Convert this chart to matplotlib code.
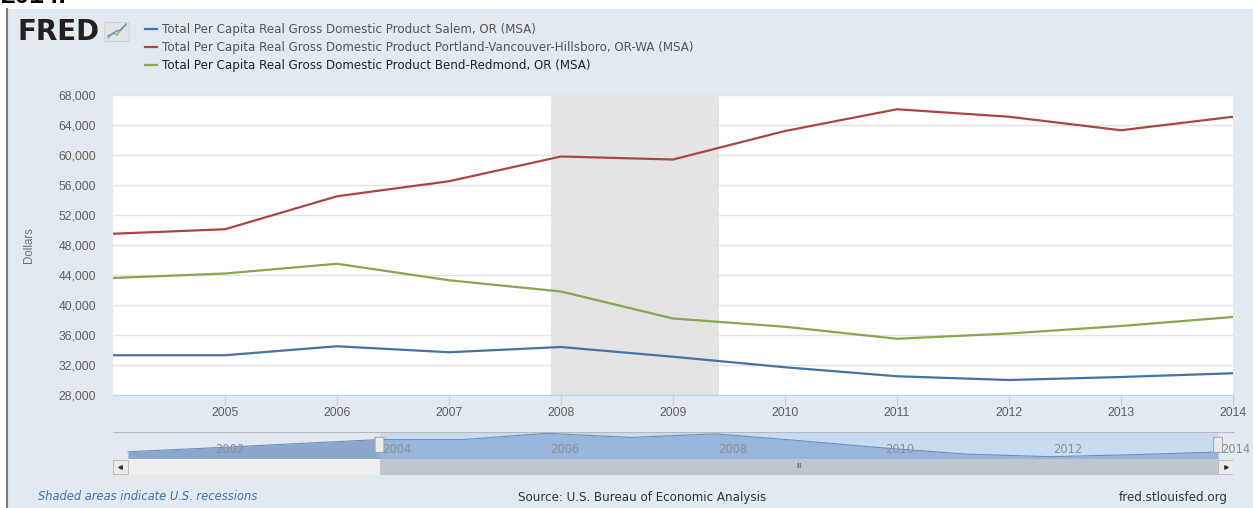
import matplotlib
matplotlib.use("Agg")
import matplotlib.pyplot as plt
from matplotlib.patches import Rectangle, FancyBboxPatch
from matplotlib.lines import Line2D
from matplotlib.ticker import FuncFormatter
from matplotlib.transforms import blended_transform_factory

# data (annual, dollars)
years = [2004, 2005, 2006, 2007, 2008, 2009, 2010, 2011, 2012, 2013, 2014]
salem = [33300, 33300, 34500, 33700, 34400, 33100, 31700, 30500, 30000, 30400, 30900]
portland = [49500, 50100, 54500, 56500, 59800, 59400, 63200, 66100, 65100, 63300, 65100]
bend = [43600, 44200, 45500, 43300, 41800, 38200, 37100, 35500, 36200, 37200, 38400]

# navigator shows the Salem series over the whole range
nav_years = [2001, 2002, 2003, 2004, 2005, 2006, 2007, 2008, 2009, 2010, 2011, 2012, 2013, 2014]
nav_salem = [30950, 31700, 32500, 33300, 33300, 34500, 33700, 34400, 33100, 31700, 30500, 30000, 30400, 30900]

recession = (2007.915, 2009.414)

series_labels = [
    "Total Per Capita Real Gross Domestic Product Salem, OR (MSA)",
    "Total Per Capita Real Gross Domestic Product Portland-Vancouver-Hillsboro, OR-WA (MSA)",
    "Total Per Capita Real Gross Domestic Product Bend-Redmond, OR (MSA)",
]
colors = ["#4572a7", "#aa4643", "#89a54e"]

W, H = 1253, 508
BG = "#e1e9f1"
plt.rcParams["font.family"] = ["Liberation Sans", "DejaVu Sans"]


def px(x, y):
    return x / W, 1 - y / H


def box(x0, y0, x1, y1):
    return [x0 / W, 1 - y1 / H, (x1 - x0) / W, (y1 - y0) / H]


fig = plt.figure(figsize=(W / 100, H / 100), dpi=100, facecolor="white")

# panel background and left border
fig.add_artist(Rectangle(px(7, 508), (W - 7) / W, 499 / H, transform=fig.transFigure,
                         facecolor=BG, edgecolor="none", zorder=0))
fig.add_artist(Line2D([7 / W, 7 / W], [0, 1 - 9 / H], transform=fig.transFigure,
                      color="#7a7a7a", linewidth=1.5))
fig.text(*px(0, 3), "2014.", fontsize=19, fontweight="bold", color="black",
         ha="left", va="baseline")

# FRED logo
fig.text(*px(18, 40), "FRED", fontsize=20, fontweight="bold", color="#231f20",
         ha="left", va="baseline", family=["DejaVu Sans"])
fig.add_artist(FancyBboxPatch(px(106, 41), 22 / W, 18 / H, boxstyle="round,pad=0.001",
                              transform=fig.transFigure, facecolor="#dfe4e6",
                              edgecolor="#c9cfd2", linewidth=0.6))
for c, pts in (("#8fbf5a", [(108, 38), (113, 33), (117, 35), (122, 28), (126, 25)]),
               ("#6f95c8", [(108, 36), (112, 34), (117, 31), (121, 30), (126, 24)])):
    xs, ys = zip(*[px(a, b) for a, b in pts])
    fig.add_artist(Line2D(xs, ys, transform=fig.transFigure, color=c, linewidth=1.1))

# legend
for i, (lab, c) in enumerate(zip(series_labels, colors)):
    yy = 29 + 18 * i
    fig.add_artist(Line2D([145 / W, 157 / W], [1 - yy / H] * 2, transform=fig.transFigure,
                          color=c, linewidth=1.6))
    fig.text(*px(162, yy), lab, fontsize=8.6, color="#222222" if i == 2 else "#555555",
             ha="left", va="center", family=["Liberation Sans Narrow", "DejaVu Sans"])

# main chart
ax = fig.add_axes(box(113, 95, 1233, 395))
ax.set_facecolor("white")
ax.axvspan(recession[0], recession[1], color="#e4e4e4", zorder=0, linewidth=0)
for vals, c in zip([salem, portland, bend], colors):
    ax.plot(years, vals, color=c, linewidth=1.6, zorder=3)
ax.set_xlim(2004, 2014)
ax.set_ylim(28000, 68000)
ax.set_yticks(range(28000, 68001, 4000))
ax.set_xticks(range(2005, 2015))
ax.yaxis.set_major_formatter(FuncFormatter(lambda v, p: f"{v:,.0f}"))
ax.grid(axis="y", color="#e3e3e3", linewidth=1)
ax.set_axisbelow(True)
for s in ("top", "right", "left"):
    ax.spines[s].set_visible(False)
ax.spines["bottom"].set_color("#c0d0e0")
ax.tick_params(axis="y", length=0, pad=12, labelsize=8.8, labelcolor="#606060")
ax.tick_params(axis="x", length=7, color="#c0d0e0", pad=2, labelsize=8.8,
               labelcolor="#606060")
ax.set_ylabel("Dollars", fontsize=8.3, color="#707070")
ax.yaxis.set_label_coords((35 - 113) / 1120, 0.5)

# navigator
nav_lo, nav_hi = 2001 - 15 / 83.85, 2014 + 15 / 83.85
axn = fig.add_axes(box(113, 432, 1233, 459))
axn.set_facecolor(BG)
axn.fill_between(nav_years, 29560, nav_salem, color="#8ba7cb", linewidth=0)
axn.plot(nav_years, nav_salem, color="#6f8fbd", linewidth=0.8)
axn.axvspan(2004, 2014, color="#a9caf2", alpha=0.45, linewidth=0)
axn.set_xlim(nav_lo, nav_hi)
axn.set_ylim(29560, 34750)
axn.set_xticks([])
axn.set_yticks([])
for s in ("right", "left", "bottom"):
    axn.spines[s].set_visible(False)
axn.spines["top"].set_color("#b5b8bd")
bt = blended_transform_factory(axn.transData, axn.transAxes)
for yr in range(2002, 2015, 2):
    axn.text(yr + 3 / 83.85, 0.35, str(yr), transform=bt, fontsize=8.3,
             color="#8a8f96", ha="left", va="center", clip_on=False,
             family=["Liberation Sans Narrow", "DejaVu Sans"])
for yr in (2004, 2014):
    axn.add_patch(FancyBboxPatch((yr - 4 / 83.85, 0.25), 8 / 83.85, 0.55,
                                 boxstyle="round,pad=0.005", transform=bt,
                                 facecolor="#ebebeb", edgecolor="#a0a0a0",
                                 linewidth=0.7, zorder=5, clip_on=False))

# scrollbar
axs = fig.add_axes(box(113, 459, 1233, 475))
axs.set_xlim(nav_lo, nav_hi)
axs.set_ylim(0, 1)
axs.axis("off")
axs.axvspan(2001, 2004, color="#eeeeee", linewidth=0)
axs.axvspan(2004, 2014, color="#bfc6cf", linewidth=0)
for a, b, mk in ((nav_lo, 2001, "<"), (2014, nav_hi, ">")):
    axs.add_patch(Rectangle((a, 0.05), b - a, 0.9, facecolor="#ebebeb",
                            edgecolor="#bbbbbb", linewidth=0.7))
    axs.plot([(a + b) / 2], [0.5], marker=mk, markersize=2.5, color="#333333")
axs.text(2009, 0.5, "III", fontsize=5, color="#555555", ha="center", va="center")

# footer
fig.text(*px(38, 497), "Shaded areas indicate U.S. recessions", fontsize=8.3,
         style="italic", color="#4a6fa5", ha="left", va="center",
         family=["Liberation Sans Narrow", "DejaVu Sans"])
fig.text(*px(642, 497), "Source: U.S. Bureau of Economic Analysis", fontsize=8.6,
         color="#333333", ha="center", va="center",
         family=["Liberation Sans Narrow", "DejaVu Sans"])
fig.text(*px(1228, 497), "fred.stlouisfed.org", fontsize=8.6, color="#333333",
         ha="right", va="center", family=["Liberation Sans Narrow", "DejaVu Sans"])

fig.savefig("out.png", dpi=100, facecolor="white")
